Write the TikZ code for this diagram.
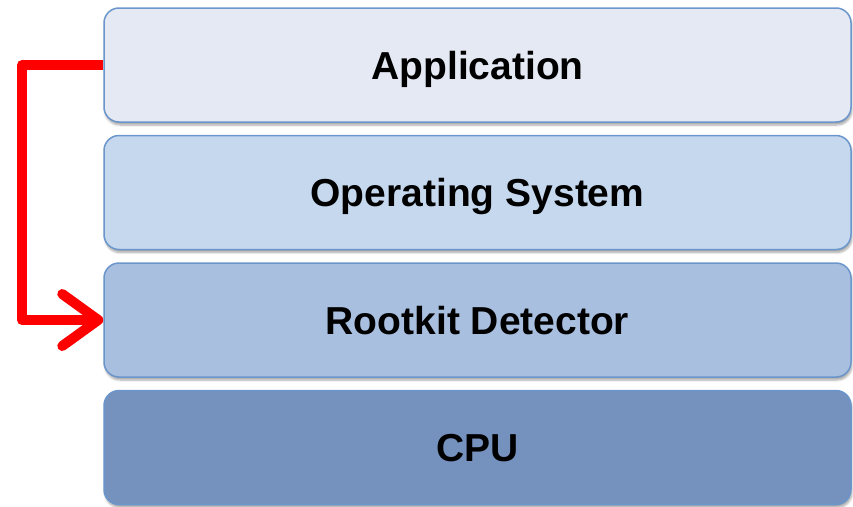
\documentclass[tikz,border=0pt]{standalone}
\usepackage{fontspec}
\setmainfont{Liberation Sans}
\usetikzlibrary{arrows.meta,shadows.blur}
\definecolor{layerline}{HTML}{6B96CB}
\definecolor{appfill}{HTML}{E4E9F3}
\definecolor{osfill}{HTML}{C5D8EE}
\definecolor{rkfill}{HTML}{A9BFE0}
\definecolor{cpufill}{HTML}{7591BE}
\definecolor{hookred}{HTML}{FF0000}
\tikzset{
  layer/.style={rectangle, rounded corners=15pt, draw=layerline, line width=1.5pt,
    minimum width=747pt, minimum height=114pt, inner sep=0pt,
    text height=28pt, text depth=0pt,
    font=\fontsize{39}{44}\selectfont\bfseries, text=black,
    blur shadow={shadow xshift=1pt, shadow yshift=-3pt, shadow blur steps=6, shadow opacity=35}},
  hook/.style={draw=hookred, line width=10pt, line join=round,
    -{Straight Barb[length=36pt, width=52pt, round]}}
}
\begin{document}
\begin{tikzpicture}[x=1pt, y=-1pt]
  \useasboundingbox (0,0) rectangle (853,506);
  % the four layers, top to bottom
  \node[layer, fill=appfill] (app) at (477.5,65)  {Application};
  \node[layer, fill=osfill]  (os)  at (477.5,192.5) {Operating System};
  \node[layer, fill=rkfill]  (rk)  at (477.5,320)  {Rootkit Detector};
  \node[layer, fill=cpufill] (cpu) at (477.5,447.5) {CPU};
  % red path from the application down into the detector layer
  \coordinate (bend) at (22,65);
  \draw[hook] (app.west) -- (bend) |- (rk.west);
\end{tikzpicture}
\end{document}
